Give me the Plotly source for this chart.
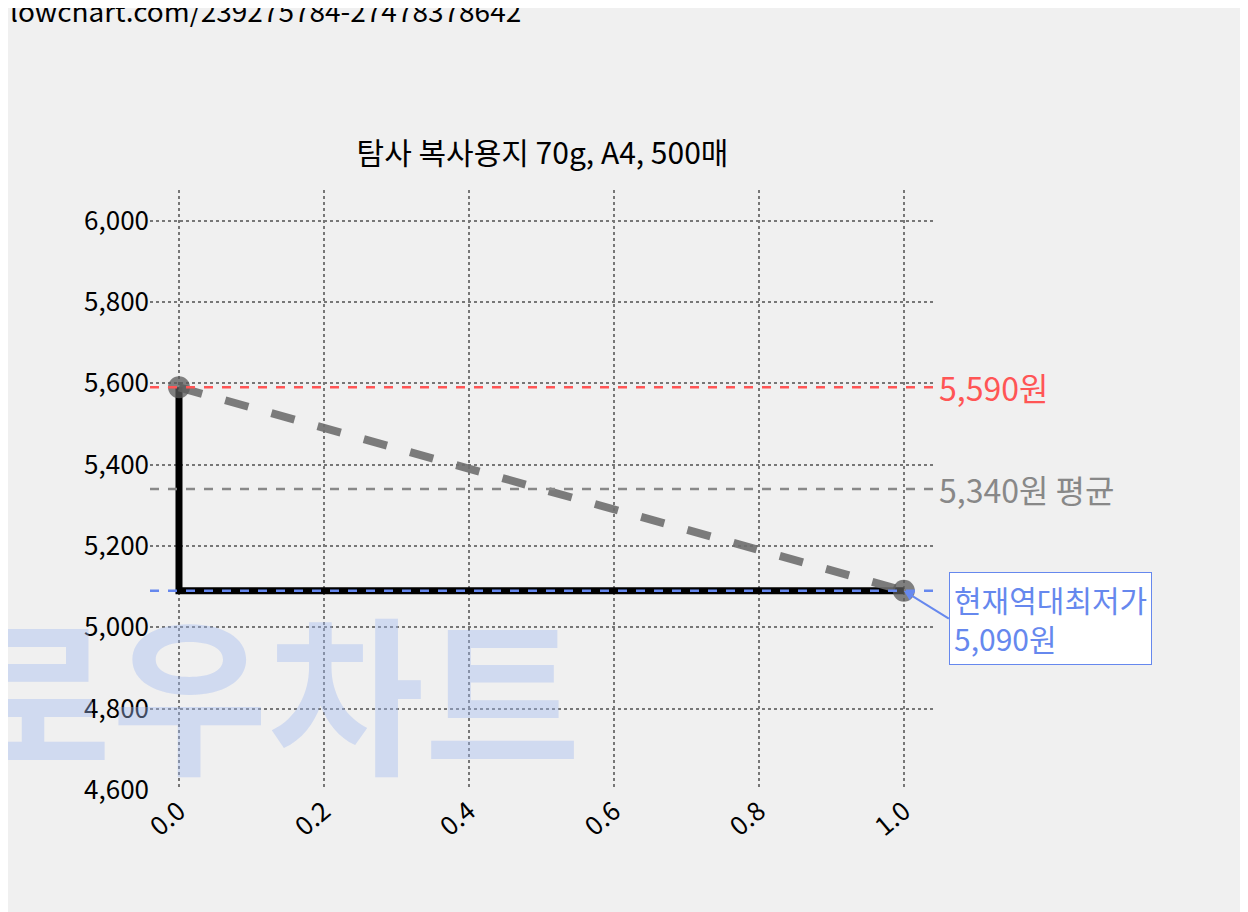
import plotly.graph_objects as go

xs = [0.0, 1.0]
prices = [5590, 5090]
max_price = 5590
avg_price = 5340
min_price = 5090
title = "탐사 복사용지 70g, A4, 500매"
y_ticks = [4600, 4800, 5000, 5200, 5400, 5600, 5800, 6000]
x_ticks = [0.0, 0.2, 0.4, 0.6, 0.8, 1.0]

font = "Noto Sans CJK KR"
fig = go.Figure()
fig.add_trace(go.Scatter(x=xs, y=prices, mode="lines", line=dict(color="black", width=7, shape="vh"), hoverinfo="skip"))
fig.add_trace(go.Scatter(x=xs, y=prices, mode="lines+markers", line=dict(color="rgba(110,110,110,0.9)", width=8, dash="dash"),
                         marker=dict(size=22, color="rgba(90,90,90,0.75)")))
for val, col in [(max_price, "#ff5555"), (avg_price, "#888888"), (min_price, "#6688ee")]:
    fig.add_shape(type="line", xref="paper", x0=0, x1=1, y0=val, y1=val,
                  line=dict(color=col, width=2.5, dash="dash"))
fig.add_annotation(x=1, xref="paper", y=max_price, text=f"{max_price:,}원", showarrow=False, xanchor="left", xshift=2,
                   font=dict(size=32, color="#ff5555", family=font))
fig.add_annotation(x=1, xref="paper", y=avg_price, text=f"{avg_price:,}원 평균", showarrow=False, xanchor="left", xshift=2,
                   font=dict(size=32, color="#888888", family=font))
fig.add_annotation(x=1, y=min_price, ax=45, ay=28, text=f"현재역대최저가<br>{min_price:,}원", showarrow=True,
                   arrowhead=2, arrowcolor="#6688ee", arrowwidth=2, xanchor="left", yanchor="middle", align="left",
                   bgcolor="white", bordercolor="#6688ee", borderwidth=1, borderpad=4,
                   font=dict(size=30, color="#6688ee", family=font))
fig.add_annotation(xref="paper", yref="paper", x=0.15, y=0.17, text="<b>로우차트</b>", showarrow=False,
                   xanchor="center", yanchor="middle", font=dict(size=170, color="rgba(160,185,240,0.4)", family=font))
fig.add_annotation(xref="paper", yref="paper", x=-0.181, y=1.3, text="lowchart.com/239275784-27478378642", showarrow=False,
                   xanchor="left", yanchor="middle", font=dict(size=28, color="black", family=font))
fig.update_layout(
    width=1248, height=912, paper_bgcolor="#f0f0f0", plot_bgcolor="#f0f0f0",
    margin=dict(l=142, r=321, t=182, b=130), showlegend=False,
    title=dict(text=title, x=0.5, xref="paper", y=0.84, yanchor="middle", font=dict(size=30, color="black", family=font)),
    font=dict(family=font, size=26, color="black"),
)
fig.update_xaxes(range=[-0.04, 1.043], tickvals=x_ticks, ticktext=[f"{v:.1f}" for v in x_ticks], tickangle=-40,
                 showgrid=True, gridcolor="#777777", griddash="dot", gridwidth=2, zeroline=False, showline=False)
fig.update_yaxes(range=[4600, 6075], tickvals=y_ticks, tickformat=",d", showgrid=True, gridcolor="#777777",
                 griddash="dot", gridwidth=2, zeroline=False, showline=False)
fig.write_html("out.html")
